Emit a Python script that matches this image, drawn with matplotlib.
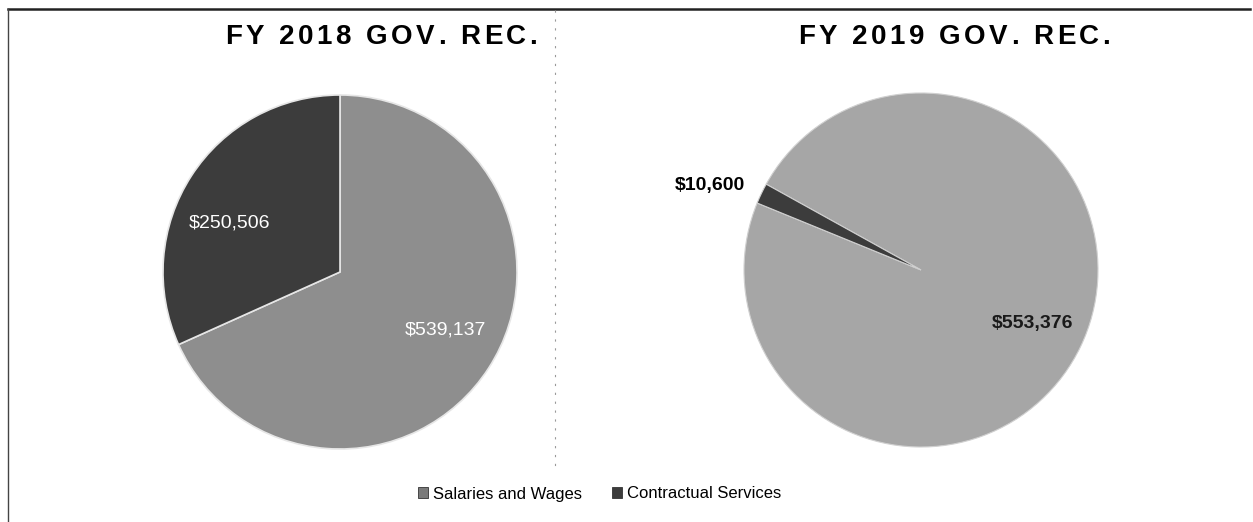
import matplotlib
matplotlib.use('Agg')
import matplotlib.pyplot as plt
import matplotlib.patches as mpatches
import numpy as np

plt.rcParams['font.family'] = ['Liberation Sans', 'DejaVu Sans']

categories = ['Salaries and Wages', 'Contractual Services']
fy2018 = [539137, 250506]
fy2019 = [553376, 10600]
titles = ['FY 2018 GOV. REC.', 'FY 2019 GOV. REC.']

W, H = 1253, 522
fig = plt.figure(figsize=(W / 100, H / 100), dpi=100)
fig.patch.set_facecolor('white')


def px_axes(cx, cy, r):
    # axes box (in figure fraction) for a pie centred at pixel cx, cy
    return [(cx - r) / W, (H - cy - r) / H, 2 * r / W, 2 * r / H]


def spaced_text(x, y, s, spacing, **kw):
    # draw text with extra letter spacing, centred on x (pixels)
    r = fig.canvas.get_renderer()
    widths = []
    for ch in s:
        if ch == ' ':
            a = fig.text(0, 0, 'a a', **kw)
            b = fig.text(0, 0, 'aa', **kw)
            w = a.get_window_extent(r).width - b.get_window_extent(r).width
            a.remove(); b.remove()
        else:
            t = fig.text(0, 0, ch, **kw)
            w = t.get_window_extent(r).width
            t.remove()
        widths.append(w)
    total = sum(widths) + spacing * (len(s) - 1)
    cur = x - total / 2
    for ch, w in zip(s, widths):
        if ch != ' ':
            fig.text(cur / W, 1 - y / H, ch, ha='left', va='center', **kw)
        cur += w + spacing


def money(v):
    return '${:,}'.format(v)


# ---- FY 2018 ----
ax1 = fig.add_axes(px_axes(340, 272, 177))
colors1 = ['#8e8e8e', '#3c3c3c']
w1, _ = ax1.pie(fy2018, colors=colors1, startangle=90, counterclock=False,
                wedgeprops=dict(edgecolor='#e6e6e6', linewidth=1.2))
# excel "best fit" puts the labels a bit off the slice middles
offsets = [4, 9]
for w, v, off in zip(w1, fy2018, offsets):
    ang = np.deg2rad((w.theta1 + w.theta2) / 2 + off)
    ax1.text(0.68 * np.cos(ang), 0.68 * np.sin(ang), money(v), ha='center',
             va='center', fontsize=14, color='white')
ax1.set_xlim(-1, 1)
ax1.set_ylim(-1, 1)
ax1.axis('off')

# ---- FY 2019 ----
ax2 = fig.add_axes(px_axes(921, 270, 177))
colors2 = ['#a6a6a6', '#3c3c3c']
w2, _ = ax2.pie(fy2019, colors=colors2, startangle=151, counterclock=False,
                wedgeprops=dict(edgecolor='#d0d0d0', linewidth=0.8))
ang = np.deg2rad((w2[0].theta1 + w2[0].theta2) / 2)
ax2.text(0.7 * np.cos(ang), 0.7 * np.sin(ang), money(fy2019[0]), ha='center',
         va='center', fontsize=14, fontweight='bold', color='#1a1a1a')
ang = np.deg2rad((w2[1].theta1 + w2[1].theta2) / 2)
ax2.text(1.1 * np.cos(ang), 1.1 * np.sin(ang), money(fy2019[1]), ha='right',
         va='center', fontsize=14, fontweight='bold', color='black')
ax2.set_xlim(-1, 1)
ax2.set_ylim(-1, 1)
ax2.axis('off')

# titles
spaced_text(381, 37, titles[0], 3.5, fontsize=20, fontweight='bold')
spaced_text(954, 37, titles[1], 3.5, fontsize=20, fontweight='bold')

# legend
handles = [mpatches.Patch(facecolor=c, edgecolor='#333333', linewidth=0.6)
           for c in ['#7a7a7a', '#3c3c3c']]
fig.legend(handles, categories, loc='center', bbox_to_anchor=(600 / W, 1 - 494 / H),
           ncol=2, frameon=False, fontsize=12, handlelength=0.6, handleheight=0.6,
           handletextpad=0.3, columnspacing=1.8)

# chart frame and the fold line of the scanned page
fig.add_artist(plt.Line2D([8 / W, 1250 / W], [1 - 9 / H, 1 - 9 / H], color='#222222', lw=1.8))
fig.add_artist(plt.Line2D([8 / W, 8 / W], [1 - 9 / H, 0], color='#444444', lw=1))
fig.add_artist(plt.Line2D([555 / W, 555 / W], [1 - 10 / H, 1 - 470 / H], color='#999999',
                          lw=0.8, ls=(0, (2, 6))))

fig.savefig('out.png', dpi=100)
